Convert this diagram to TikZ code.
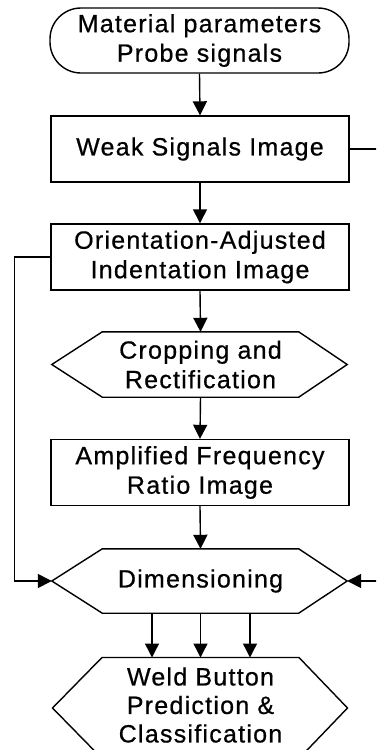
\documentclass[tikz,border=0pt]{standalone}
\usepackage{fontspec}
\setmainfont{Liberation Sans}
\usetikzlibrary{arrows.meta,calc}
\begin{document}
\begin{tikzpicture}[x=1pt,y=-1pt,
  every node/.style={font=\fontsize{25}{29.5}\selectfont\addfontfeature{LetterSpace=5,FakeBold=0.6}, align=center, inner sep=0pt},
  ln/.style={line width=1.4pt},
  term/.style={draw, ln, rounded corners=31pt, minimum width=299pt, minimum height=65pt},
  stepbox/.style={draw, ln, minimum width=298pt, minimum height=66pt},
  hexin/.style={minimum width=196pt, minimum height=65pt},
  arr/.style={ln, -{Triangle[length=14pt,width=14pt]}}]
\useasboundingbox (0,0) rectangle (376,750);
\clip (0,0) rectangle (376,750);
% nodes
\node[term] (start) at (199.5,40.5) {Material parameters\\Probe signals};
\node[stepbox] (weak) at (200,149) {Weak Signals Image};
\node[stepbox] (orient) at (200,257) {Orientation-Adjusted\\Indentation Image};
\node[hexin] (crop) at (200.5,364.5) {Cropping and\\Rectification};
\node[stepbox] (ampl) at (200,472.5) {Amplified Frequency\\Ratio Image};
\node[hexin, minimum height=64pt] (dim) at (200.5,581) {Dimensioning};
\node[font=\fontsize{25}{28.5}\selectfont\addfontfeature{LetterSpace=5,FakeBold=0.6}] (weld) at (200.5,705) {Weld Button\\Prediction \&\\Classification};
\coordinate (weldtop) at (200.5,657.5);
% hexagon outlines
\draw[ln] (crop.north west) -- (crop.north east) -- ($(crop.east)+(48.5,0)$) coordinate (cropR)
  -- (crop.south east) -- (crop.south west) -- ($(crop.west)+(-50.5,0)$) coordinate (cropL) -- cycle;
\draw[ln] (dim.north west) -- (dim.north east) -- ($(dim.east)+(48.5,0)$) coordinate (dimR)
  -- (dim.south east) -- (dim.south west) -- ($(dim.west)+(-50.5,0)$) coordinate (dimL) -- cycle;
\draw[ln] ($(weldtop)+(-98.5,0)$) -- ($(weldtop)+(98.5,0)$) -- ($(weldtop)+(147,50.5)$)
  -- ($(weldtop)+(98.5,101)$) -- ($(weldtop)+(-98.5,101)$) -- ($(weldtop)+(-148,50.5)$) -- cycle;
% connectors
\draw[arr] (start.south) -- (weak.north);
\draw[arr] (weak.south) -- (orient.north);
\draw[arr] (orient.south) -- (crop.north);
\draw[arr] (crop.south) -- (ampl.north);
\draw[arr] (ampl.south) -- (dim.north);
\draw[arr] ($(dim.south)+(-48.5,0)$) -- ($(weldtop)+(-48.5,0)$);
\draw[arr] (dim.south) -- (weldtop);
\draw[arr] ($(dim.south)+(49.5,0)$) -- ($(weldtop)+(49.5,0)$);
\draw[arr] (orient.west) -- ++(-36,0) |- (dimL);
\draw[arr] (weak.east) -- ++(40,0) |- (dimR);
\end{tikzpicture}
\end{document}
